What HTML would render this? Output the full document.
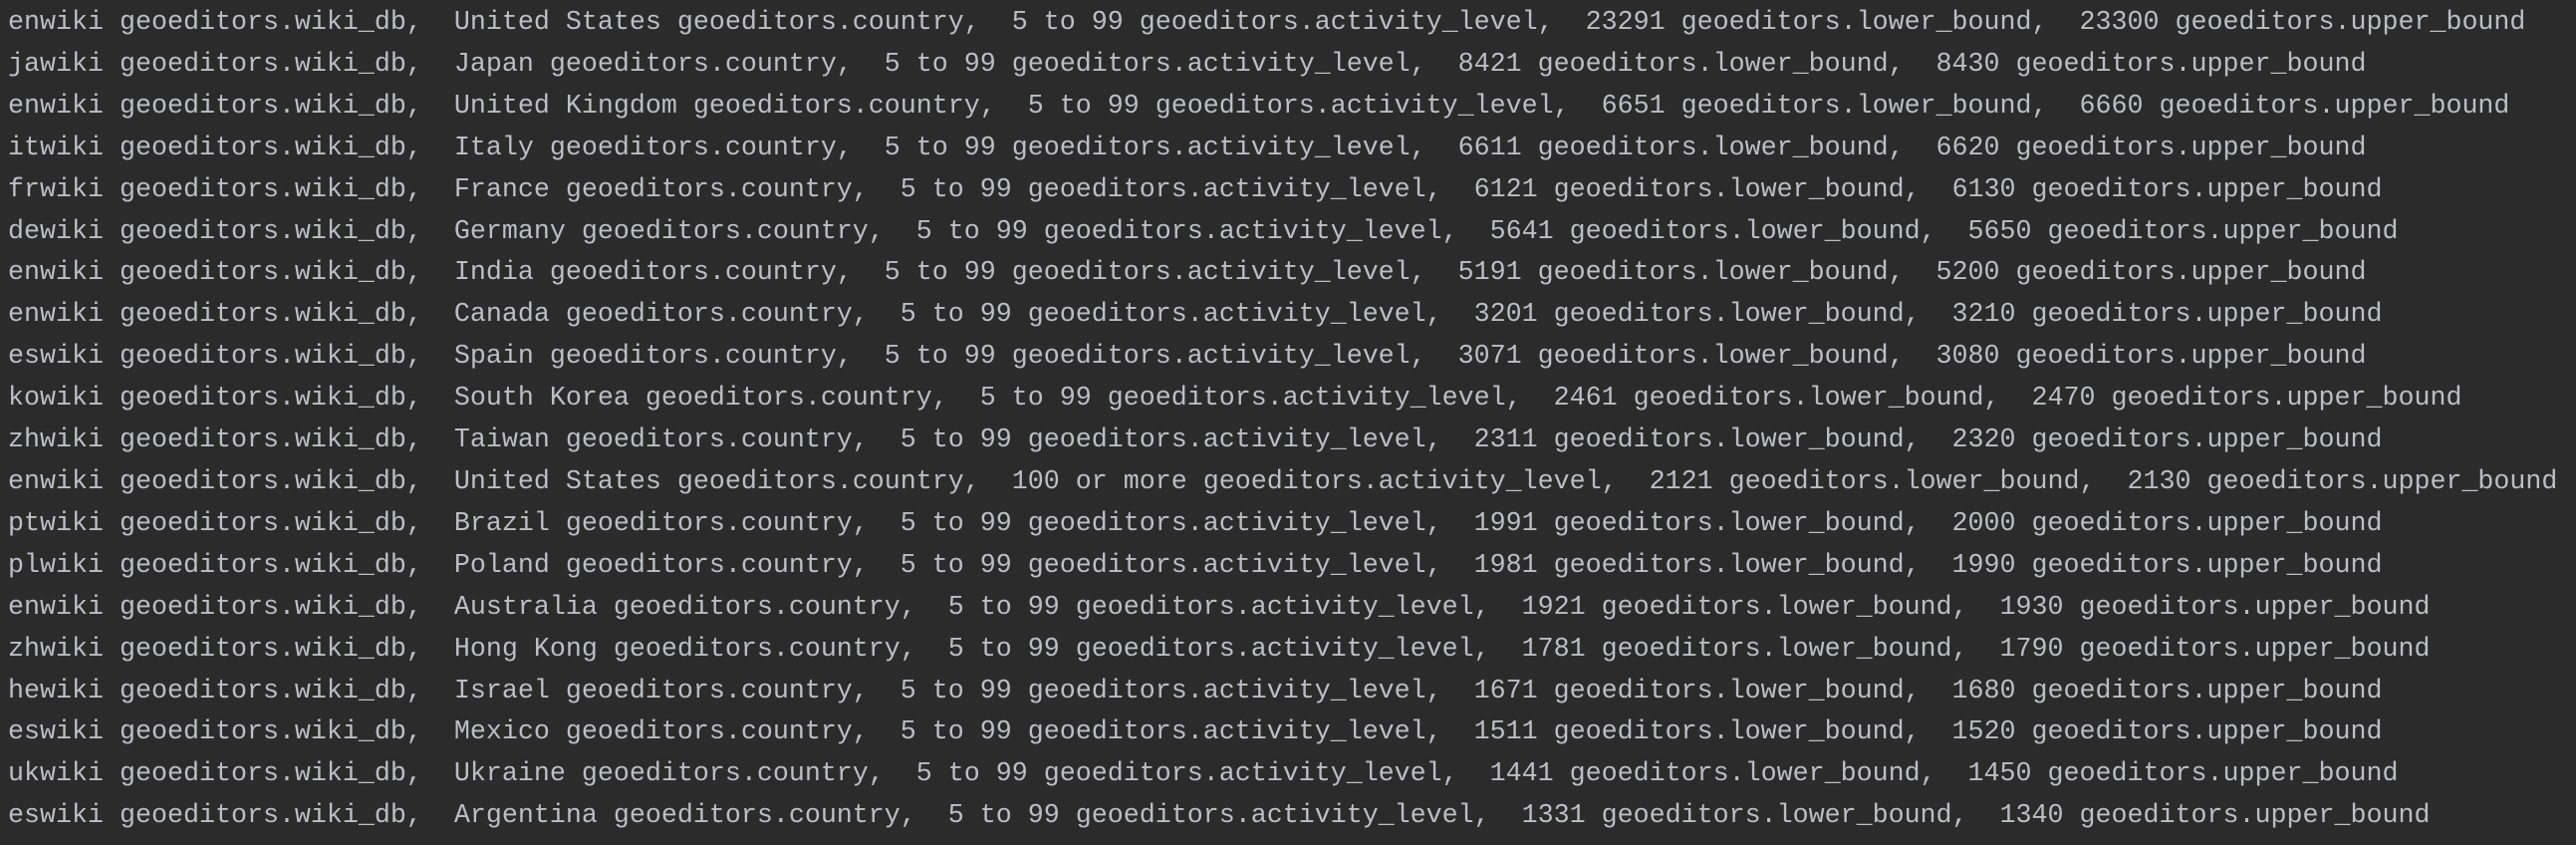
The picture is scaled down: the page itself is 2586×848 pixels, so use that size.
<!DOCTYPE html>
<html><head><meta charset="utf-8"><style>
html,body{margin:0;padding:0;background:#2b2b2b;width:2586px;height:848px;overflow:hidden}
pre{margin:0;padding:3px 0 0 8px;font-family:"Liberation Mono","DejaVu Sans Mono",monospace;font-size:26.67px;line-height:41.9px;color:#bcbec4;white-space:pre}
</style></head><body><pre>enwiki geoeditors.wiki_db,  United States geoeditors.country,  5 to 99 geoeditors.activity_level,  23291 geoeditors.lower_bound,  23300 geoeditors.upper_bound
jawiki geoeditors.wiki_db,  Japan geoeditors.country,  5 to 99 geoeditors.activity_level,  8421 geoeditors.lower_bound,  8430 geoeditors.upper_bound
enwiki geoeditors.wiki_db,  United Kingdom geoeditors.country,  5 to 99 geoeditors.activity_level,  6651 geoeditors.lower_bound,  6660 geoeditors.upper_bound
itwiki geoeditors.wiki_db,  Italy geoeditors.country,  5 to 99 geoeditors.activity_level,  6611 geoeditors.lower_bound,  6620 geoeditors.upper_bound
frwiki geoeditors.wiki_db,  France geoeditors.country,  5 to 99 geoeditors.activity_level,  6121 geoeditors.lower_bound,  6130 geoeditors.upper_bound
dewiki geoeditors.wiki_db,  Germany geoeditors.country,  5 to 99 geoeditors.activity_level,  5641 geoeditors.lower_bound,  5650 geoeditors.upper_bound
enwiki geoeditors.wiki_db,  India geoeditors.country,  5 to 99 geoeditors.activity_level,  5191 geoeditors.lower_bound,  5200 geoeditors.upper_bound
enwiki geoeditors.wiki_db,  Canada geoeditors.country,  5 to 99 geoeditors.activity_level,  3201 geoeditors.lower_bound,  3210 geoeditors.upper_bound
eswiki geoeditors.wiki_db,  Spain geoeditors.country,  5 to 99 geoeditors.activity_level,  3071 geoeditors.lower_bound,  3080 geoeditors.upper_bound
kowiki geoeditors.wiki_db,  South Korea geoeditors.country,  5 to 99 geoeditors.activity_level,  2461 geoeditors.lower_bound,  2470 geoeditors.upper_bound
zhwiki geoeditors.wiki_db,  Taiwan geoeditors.country,  5 to 99 geoeditors.activity_level,  2311 geoeditors.lower_bound,  2320 geoeditors.upper_bound
enwiki geoeditors.wiki_db,  United States geoeditors.country,  100 or more geoeditors.activity_level,  2121 geoeditors.lower_bound,  2130 geoeditors.upper_bound
ptwiki geoeditors.wiki_db,  Brazil geoeditors.country,  5 to 99 geoeditors.activity_level,  1991 geoeditors.lower_bound,  2000 geoeditors.upper_bound
plwiki geoeditors.wiki_db,  Poland geoeditors.country,  5 to 99 geoeditors.activity_level,  1981 geoeditors.lower_bound,  1990 geoeditors.upper_bound
enwiki geoeditors.wiki_db,  Australia geoeditors.country,  5 to 99 geoeditors.activity_level,  1921 geoeditors.lower_bound,  1930 geoeditors.upper_bound
zhwiki geoeditors.wiki_db,  Hong Kong geoeditors.country,  5 to 99 geoeditors.activity_level,  1781 geoeditors.lower_bound,  1790 geoeditors.upper_bound
hewiki geoeditors.wiki_db,  Israel geoeditors.country,  5 to 99 geoeditors.activity_level,  1671 geoeditors.lower_bound,  1680 geoeditors.upper_bound
eswiki geoeditors.wiki_db,  Mexico geoeditors.country,  5 to 99 geoeditors.activity_level,  1511 geoeditors.lower_bound,  1520 geoeditors.upper_bound
ukwiki geoeditors.wiki_db,  Ukraine geoeditors.country,  5 to 99 geoeditors.activity_level,  1441 geoeditors.lower_bound,  1450 geoeditors.upper_bound
eswiki geoeditors.wiki_db,  Argentina geoeditors.country,  5 to 99 geoeditors.activity_level,  1331 geoeditors.lower_bound,  1340 geoeditors.upper_bound</pre></body></html>
